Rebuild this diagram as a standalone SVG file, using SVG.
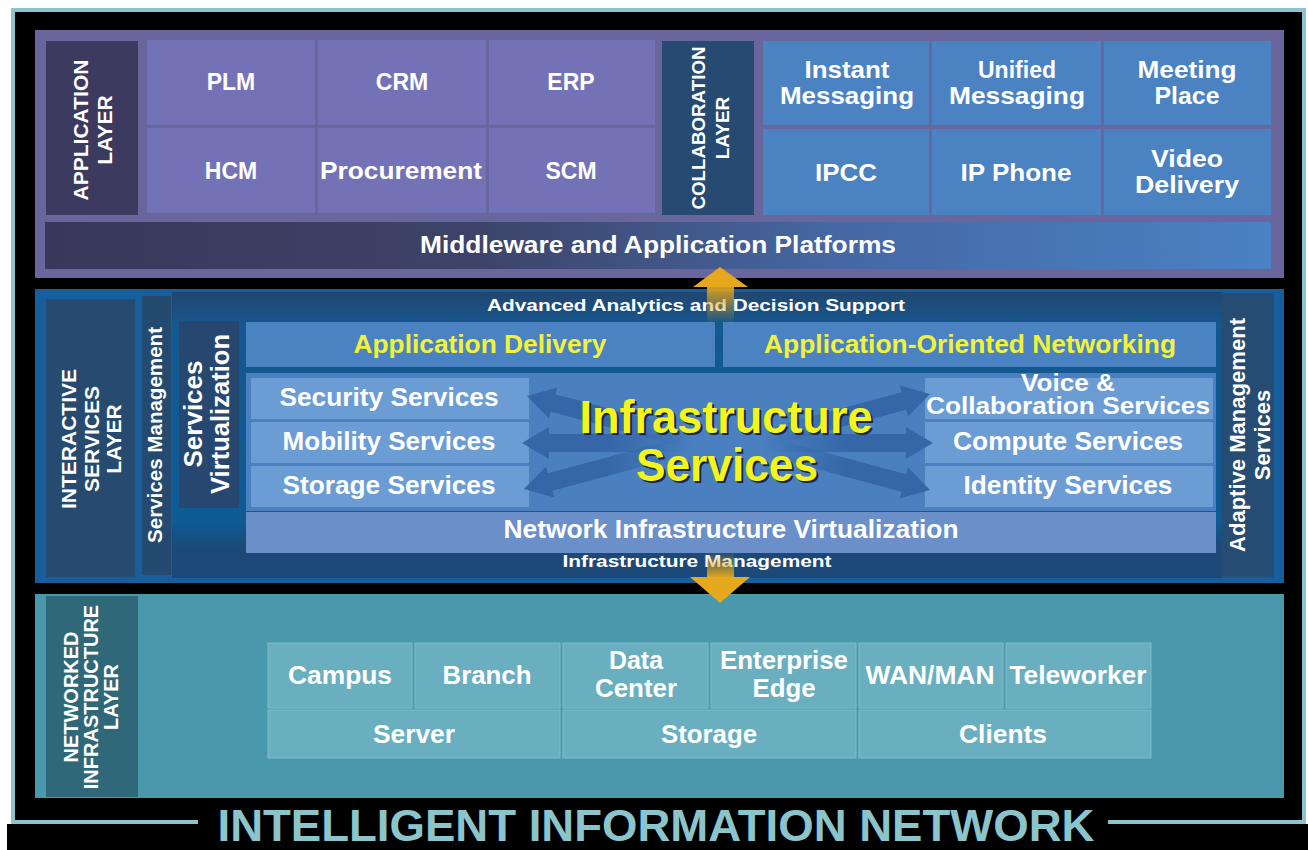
<svg xmlns="http://www.w3.org/2000/svg" width="1308" height="850" viewBox="0 0 1308 850">
<style>
.t{font-family:"Liberation Sans",Arial,sans-serif;font-weight:bold;fill:#fff;text-anchor:middle}
.y{fill:#f2f23c}
.big{font-family:"Liberation Sans",Arial,sans-serif;font-weight:bold;text-anchor:middle;font-size:47px}
.pc{fill:#7472b6}
.bc{fill:#4a82c2}
.sc{fill:#6b9cd3}
.nc{fill:#6aafc0;stroke:#7fbccb;stroke-width:1}
</style>
<defs>
<linearGradient id="mw" x1="0" y1="0" x2="1" y2="0">
<stop offset="0" stop-color="#39385a"/>
<stop offset="0.35" stop-color="#3d4368"/>
<stop offset="0.65" stop-color="#4568a4"/>
<stop offset="1" stop-color="#4a82c4"/>
</linearGradient>
<linearGradient id="inner" x1="0" y1="0" x2="0" y2="1">
<stop offset="0" stop-color="#22466f"/>
<stop offset="0.12" stop-color="#155790"/>
<stop offset="0.8" stop-color="#0e5b95"/>
<stop offset="0.9" stop-color="#1c4977"/>
<stop offset="1" stop-color="#1c4977"/>
</linearGradient>
<linearGradient id="arr" gradientUnits="userSpaceOnUse" x1="-170" y1="0" x2="0" y2="0">
<stop offset="0" stop-color="#3567a8" stop-opacity="0"/>
<stop offset="0.5" stop-color="#3567a8" stop-opacity="1"/>
<stop offset="1" stop-color="#3567a8" stop-opacity="1"/>
</linearGradient>
<linearGradient id="upShaft" x1="0" y1="0" x2="0" y2="1">
<stop offset="0" stop-color="#d9a21e"/>
<stop offset="1" stop-color="#d9a21e" stop-opacity="0"/>
</linearGradient>
<linearGradient id="dnShaft" x1="0" y1="0" x2="0" y2="1">
<stop offset="0" stop-color="#d9a21e" stop-opacity="0"/>
<stop offset="1" stop-color="#e2a81c"/>
</linearGradient>
<path id="da" d="M-170,-9 L-27,-9 L-27,-16 L0,0 L-27,16 L-27,9 L-170,9 Z" fill="url(#arr)"/>
</defs>

<!-- frame -->
<rect width="1308" height="850" fill="#fff"/>
<rect x="13" y="10" width="1291" height="812" fill="#000" stroke="#8cc4cc" stroke-width="4"/>
<rect x="7" y="824" width="1301" height="26" fill="#000"/>
<rect x="198" y="816" width="910" height="10" fill="#000"/>
<text x="656" y="841" font-family="'Liberation Sans Narrow','Liberation Sans',Arial,sans-serif" font-weight="bold" font-size="45" fill="#8cc4cc" text-anchor="middle" textLength="877" lengthAdjust="spacingAndGlyphs">INTELLIGENT INFORMATION NETWORK</text>

<!-- Application layer -->
<g id="application-layer">
<rect x="35" y="30" width="1249" height="248" fill="#68669c"/>
<rect x="46" y="41" width="92" height="174" fill="#3c3a5e"/>
<text class="t" font-size="21" transform="translate(0,130) rotate(-90)"><tspan x="0" y="88">APPLICATION</tspan><tspan x="0" y="112">LAYER</tspan></text>
</g>
<g id="plm"><rect class="pc" x="147" y="40" width="168" height="85"/><text class="t" x="231" y="90" font-size="23">PLM</text></g>
<g id="crm"><rect class="pc" x="318" y="40" width="168" height="85"/><text class="t" x="402" y="90" font-size="23">CRM</text></g>
<g id="erp"><rect class="pc" x="489" y="40" width="166" height="85"/><text class="t" x="571" y="90" font-size="23">ERP</text></g>
<g id="hcm"><rect class="pc" x="147" y="128" width="168" height="85"/><text class="t" x="231" y="179" font-size="23">HCM</text></g>
<g id="procurement"><rect class="pc" x="318" y="128" width="168" height="85"/><text class="t" x="401" y="179" font-size="23" textLength="162" lengthAdjust="spacingAndGlyphs">Procurement</text></g>
<g id="scm"><rect class="pc" x="489" y="128" width="166" height="85"/><text class="t" x="571" y="179" font-size="23">SCM</text></g>

<g id="collaboration-layer">
<rect x="662" y="41" width="92" height="174" fill="#264a72"/>
<text class="t" font-size="19" transform="translate(0,128) rotate(-90)"><tspan x="0" y="705" textLength="163" lengthAdjust="spacingAndGlyphs">COLLABORATION</tspan><tspan x="0" y="729">LAYER</tspan></text>
</g>
<g id="instant-messaging"><rect class="bc" x="763" y="41" width="166" height="84"/><text class="t" font-size="24"><tspan x="847" y="78" textLength="85" lengthAdjust="spacingAndGlyphs">Instant</tspan><tspan x="847" y="104" textLength="134" lengthAdjust="spacingAndGlyphs">Messaging</tspan></text></g>
<g id="unified-messaging"><rect class="bc" x="932" y="41" width="169" height="84"/><text class="t" font-size="24"><tspan x="1017" y="78" textLength="78" lengthAdjust="spacingAndGlyphs">Unified</tspan><tspan x="1017" y="104" textLength="136" lengthAdjust="spacingAndGlyphs">Messaging</tspan></text></g>
<g id="meeting-place"><rect class="bc" x="1104" y="41" width="167" height="84"/><text class="t" font-size="24"><tspan x="1187" y="78" textLength="99" lengthAdjust="spacingAndGlyphs">Meeting</tspan><tspan x="1187" y="104" textLength="65" lengthAdjust="spacingAndGlyphs">Place</tspan></text></g>
<g id="ipcc"><rect class="bc" x="763" y="129" width="166" height="86"/><text class="t" x="846" y="181" font-size="24" textLength="62" lengthAdjust="spacingAndGlyphs">IPCC</text></g>
<g id="ip-phone"><rect class="bc" x="932" y="129" width="169" height="86"/><text class="t" x="1016" y="181" font-size="24" textLength="111" lengthAdjust="spacingAndGlyphs">IP Phone</text></g>
<g id="video-delivery"><rect class="bc" x="1104" y="129" width="167" height="86"/><text class="t" font-size="24"><tspan x="1187" y="167" textLength="72" lengthAdjust="spacingAndGlyphs">Video</tspan><tspan x="1187" y="193" textLength="104" lengthAdjust="spacingAndGlyphs">Delivery</tspan></text></g>
<g id="middleware"><rect x="45" y="222" width="1226" height="47" fill="url(#mw)"/><text class="t" x="658" y="253" font-size="24" textLength="476" lengthAdjust="spacingAndGlyphs">Middleware and Application Platforms</text></g>

<!-- Interactive services layer -->
<g id="interactive-services-layer">
<rect x="35" y="289" width="1249" height="294" fill="#175f9c"/>
<rect x="172" y="292" width="1050" height="286" fill="url(#inner)"/>
<rect x="46" y="299" width="89" height="278" fill="#264a70"/>
<text class="t" font-size="21" transform="translate(0,439) rotate(-90)"><tspan x="0" y="76">INTERACTIVE</tspan><tspan x="0" y="99">SERVICES</tspan><tspan x="0" y="121">LAYER</tspan></text>
<text class="t" x="696" y="311" font-size="17" textLength="418" lengthAdjust="spacingAndGlyphs">Advanced Analytics and Decision Support</text>
<text class="t" x="697" y="567" font-size="17" textLength="269" lengthAdjust="spacingAndGlyphs">Infrastructure Management</text>
</g>
<g id="services-management"><rect x="142" y="296" width="29" height="279" fill="#254a70"/><text class="t" font-size="20" transform="translate(0,435) rotate(-90)" x="0" y="162" textLength="216" lengthAdjust="spacingAndGlyphs">Services Management</text></g>
<g id="services-virtualization"><rect x="179" y="321" width="60" height="187" fill="#264870"/><text class="t" font-size="26" transform="translate(0,414) rotate(-90)"><tspan x="0" y="202">Services</tspan><tspan x="0" y="229" textLength="160" lengthAdjust="spacingAndGlyphs">Virtualization</tspan></text></g>
<g id="adaptive-management"><rect x="1221" y="293" width="53" height="284" fill="#274c74"/><text class="t" font-size="22" transform="translate(0,435) rotate(-90)"><tspan x="0" y="1245" textLength="234" lengthAdjust="spacingAndGlyphs">Adaptive Management</tspan><tspan x="0" y="1270">Services</tspan></text></g>
<g id="application-delivery"><rect x="246" y="322" width="469" height="45" fill="#4a82c2"/><text class="t y" x="480" y="353" font-size="25" textLength="253" lengthAdjust="spacingAndGlyphs">Application Delivery</text></g>
<g id="application-oriented-networking"><rect x="723" y="322" width="493" height="45" fill="#4a82c2"/><text class="t y" x="970" y="353" font-size="25" textLength="412" lengthAdjust="spacingAndGlyphs">Application-Oriented Networking</text></g>
<g id="infrastructure-services"><rect x="246" y="373" width="970" height="138" fill="#4a80c0"/></g>
<g id="security-services"><rect class="sc" x="251" y="378" width="278" height="41"/><text class="t" x="389" y="406" font-size="25" textLength="219" lengthAdjust="spacingAndGlyphs">Security Services</text></g>
<g id="mobility-services"><rect class="sc" x="251" y="422" width="278" height="41"/><text class="t" x="389" y="450" font-size="25" textLength="213" lengthAdjust="spacingAndGlyphs">Mobility Services</text></g>
<g id="storage-services"><rect class="sc" x="251" y="466" width="278" height="41"/><text class="t" x="389" y="494" font-size="25" textLength="213" lengthAdjust="spacingAndGlyphs">Storage Services</text></g>
<g id="voice-collaboration-services"><rect class="sc" x="925" y="378" width="288" height="41"/><text class="t" font-size="24"><tspan x="1068" y="391" textLength="94" lengthAdjust="spacingAndGlyphs">Voice &amp;</tspan><tspan x="1068" y="414" textLength="284" lengthAdjust="spacingAndGlyphs">Collaboration Services</tspan></text></g>
<g id="compute-services"><rect class="sc" x="925" y="422" width="288" height="41"/><text class="t" x="1068" y="450" font-size="25" textLength="230" lengthAdjust="spacingAndGlyphs">Compute Services</text></g>
<g id="identity-services"><rect class="sc" x="925" y="466" width="288" height="41"/><text class="t" x="1068" y="494" font-size="25" textLength="209" lengthAdjust="spacingAndGlyphs">Identity Services</text></g>
<g id="network-infrastructure-virtualization"><rect x="246" y="512" width="970" height="41" fill="#6a8fc9"/><text class="t" x="731" y="538" font-size="25" textLength="455" lengthAdjust="spacingAndGlyphs">Network Infrastructure Virtualization</text></g>

<!-- Networked infrastructure layer -->
<g id="networked-infrastructure-layer">
<rect x="35" y="594" width="1249" height="204" fill="#4a98ac"/>
<rect x="46" y="596" width="92" height="201" fill="#2f6878"/>
<text class="t" font-size="20" transform="translate(0,697) rotate(-90)"><tspan x="0" y="78">NETWORKED</tspan><tspan x="0" y="98">INFRASTRUCTURE</tspan><tspan x="0" y="118">LAYER</tspan></text>
</g>
<g id="campus"><rect class="nc" x="268" y="643" width="144" height="65"/><text class="t" x="340" y="684" font-size="25" textLength="104" lengthAdjust="spacingAndGlyphs">Campus</text></g>
<g id="branch"><rect class="nc" x="415" y="643" width="145" height="65"/><text class="t" x="487" y="684" font-size="25" textLength="89" lengthAdjust="spacingAndGlyphs">Branch</text></g>
<g id="data-center"><rect class="nc" x="563" y="643" width="145" height="65"/><text class="t" font-size="25"><tspan x="636" y="669" textLength="54" lengthAdjust="spacingAndGlyphs">Data</tspan><tspan x="636" y="697" textLength="82" lengthAdjust="spacingAndGlyphs">Center</tspan></text></g>
<g id="enterprise-edge"><rect class="nc" x="711" y="643" width="145" height="65"/><text class="t" font-size="25"><tspan x="784" y="669" textLength="128" lengthAdjust="spacingAndGlyphs">Enterprise</tspan><tspan x="784" y="697" textLength="63" lengthAdjust="spacingAndGlyphs">Edge</tspan></text></g>
<g id="wan-man"><rect class="nc" x="859" y="643" width="144" height="65"/><text class="t" x="930" y="684" font-size="25" textLength="129" lengthAdjust="spacingAndGlyphs">WAN/MAN</text></g>
<g id="teleworker"><rect class="nc" x="1006" y="643" width="145" height="65"/><text class="t" x="1078" y="684" font-size="25" textLength="137" lengthAdjust="spacingAndGlyphs">Teleworker</text></g>
<g id="server"><rect class="nc" x="268" y="710" width="292" height="48"/><text class="t" x="414" y="743" font-size="25" textLength="82" lengthAdjust="spacingAndGlyphs">Server</text></g>
<g id="storage"><rect class="nc" x="563" y="710" width="293" height="48"/><text class="t" x="709" y="743" font-size="25" textLength="96" lengthAdjust="spacingAndGlyphs">Storage</text></g>
<g id="clients"><rect class="nc" x="859" y="710" width="292" height="48"/><text class="t" x="1003" y="743" font-size="25" textLength="88" lengthAdjust="spacingAndGlyphs">Clients</text></g>

<!-- connectors -->
<g id="connectors">
<use href="#da" transform="translate(527,396) rotate(195)"/>
<use href="#da" transform="translate(522,443) rotate(180)"/>
<use href="#da" transform="translate(524,489) rotate(165)"/>
<use href="#da" transform="translate(930,394) rotate(-15)"/>
<use href="#da" transform="translate(933,443)"/>
<use href="#da" transform="translate(930,490) rotate(15)"/>
<rect x="707" y="286" width="27" height="37" fill="url(#upShaft)"/>
<polygon points="720,267 748,287 693,287" fill="#e6a81c"/>
<rect x="707" y="552" width="27" height="26" fill="url(#dnShaft)"/>
<polygon points="690,577 750,577 720,603" fill="#e6a81c"/>
</g>

<g id="infrastructure-services-title">
<text class="big" fill="#17254a" x="728" y="435" textLength="293" lengthAdjust="spacingAndGlyphs">Infrastructure</text>
<text class="big" fill="#17254a" x="729" y="483" textLength="182" lengthAdjust="spacingAndGlyphs">Services</text>
<text class="big" fill="#f5f51e" x="726" y="433" textLength="293" lengthAdjust="spacingAndGlyphs">Infrastructure</text>
<text class="big" fill="#f5f51e" x="727" y="481" textLength="182" lengthAdjust="spacingAndGlyphs">Services</text>
</g>
</svg>
